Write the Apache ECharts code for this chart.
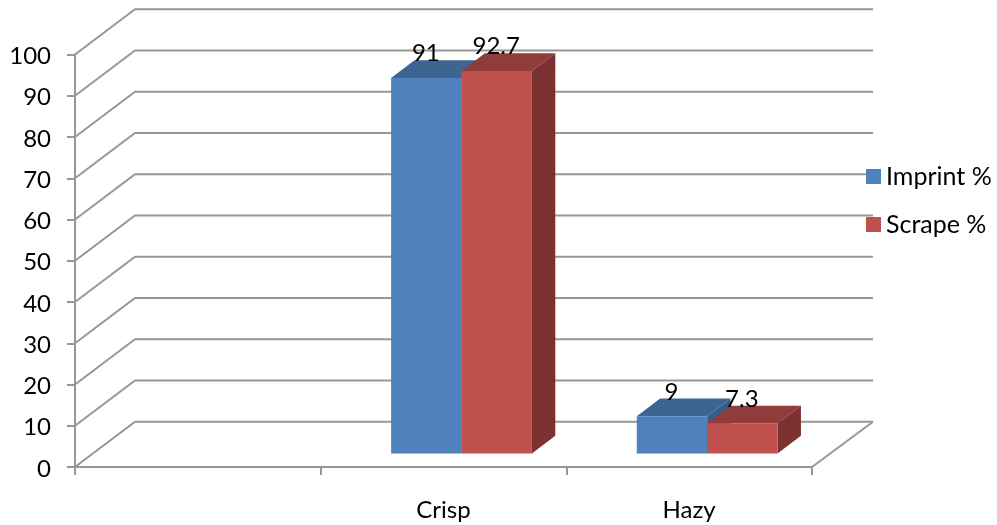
<!DOCTYPE html>
<html>
<head>
<meta charset="utf-8">
<style>html,body{margin:0;padding:0;background:#fff}#chart{width:997px;height:525px}</style>
<script src="https://cdn.jsdelivr.net/npm/echarts@6/dist/echarts.min.js"></script>
</head>
<body>
<div id="chart"></div>
<script>
// Chart data
const categories = ['', 'Crisp', 'Hazy'];
const imprint = [null, 91, 9];
const scrape = [null, 92.7, 7.3];
const gridTicks = [0, 10, 20, 30, 40, 50, 60, 70, 80, 90, 100];

// Oblique projection of the box: how far the back wall sits from the front plane
const DEPTH_X = 60, DEPTH_Y = -45.3;
const WALL_RIGHT_EXTRA = 61;
const BAR_START = 0.3, BAR_DEPTH = 0.39, BAR_WIDTH_RATIO = 0.2865;
const LINE = { stroke: '#979797', lineWidth: 2, fill: null };
const FONT = 'Lato, Carlito, sans-serif';

const shades = {
  blue: { front: '#4F81BD', top: '#3D6592', side: '#385D88' },
  red: { front: '#C0504D', top: '#8F3C3A', side: '#7B3130' }
};

function wallLines(params, api) {
  const v = api.value(0);
  const cs = params.coordSys;
  const y = api.coord([0, v])[1];
  const right = cs.x + cs.width + WALL_RIGHT_EXTRA;
  const children = [{
    type: 'polyline',
    shape: { points: [[cs.x, y], [cs.x + DEPTH_X, y + DEPTH_Y], [right, y + DEPTH_Y]] },
    style: LINE
  }];
  if (v === 0) {
    // right edge of the floor
    children.push({
      type: 'line',
      shape: { x1: cs.x + cs.width, y1: y, x2: right, y2: y + DEPTH_Y },
      style: LINE
    });
  }
  return { type: 'group', children };
}

function barRenderer(slot, colors) {
  return function (params, api) {
    const raw = api.value(1);
    if (raw == null || isNaN(raw)) return null;
    const idx = api.value(0);
    const bandW = api.size([1, 0])[0];
    const w = bandW * BAR_WIDTH_RATIO;
    const cx = api.coord([idx, 0])[0];
    const sx = DEPTH_X * BAR_START, sy = DEPTH_Y * BAR_START;
    const dx = DEPTH_X * BAR_DEPTH, dy = DEPTH_Y * BAR_DEPTH;
    const x0 = cx + sx + slot * w;
    const x1 = x0 + w;
    const yb = api.coord([idx, 0])[1] + sy;
    const yt = api.coord([idx, raw])[1] + sy;
    const poly = (pts, fill) => ({ type: 'polygon', shape: { points: pts }, style: { fill } });
    return {
      type: 'group',
      children: [
        poly([[x1, yb], [x1 + dx, yb + dy], [x1 + dx, yt + dy], [x1, yt]], colors.side),
        poly([[x0, yt], [x0 + dx, yt + dy], [x1 + dx, yt + dy], [x1, yt]], colors.top),
        poly([[x0, yb], [x1, yb], [x1, yt], [x0, yt]], colors.front),
        {
          type: 'text',
          z2: 100,
          style: {
            x: (x0 + x1) / 2 - 0.5, y: yt - 24.5,
            text: String(raw),
            fill: '#000', font: '24px ' + FONT,
            align: 'center', verticalAlign: 'middle'
          }
        }
      ]
    };
  };
}

const toPoints = values => values.map((v, i) => [i, v]);

const chart = echarts.init(document.getElementById('chart'), null, { renderer: 'canvas' });
chart.setOption({
  animation: false,
  backgroundColor: '#fff',
  grid: { left: 75, top: 54.5, width: 737, height: 412.5, containLabel: false },
  legend: {
    data: ['Imprint %', 'Scrape %'],
    orient: 'vertical',
    left: 861, top: 159,
    itemWidth: 15, itemHeight: 15, itemGap: 23,
    icon: 'rect',
    selectedMode: false,
    textStyle: { fontFamily: FONT, fontSize: 25, color: '#000' }
  },
  xAxis: {
    type: 'category',
    data: categories,
    axisLine: { lineStyle: { color: '#979797', width: 2 } },
    axisTick: { show: true, length: 8, lineStyle: { color: '#979797', width: 2 } },
    axisLabel: { interval: 0, margin: 31, fontFamily: FONT, fontSize: 24, color: '#000' },
    splitLine: { show: false }
  },
  yAxis: {
    type: 'value',
    min: 0, max: 100, interval: 10,
    axisLine: { show: true, lineStyle: { color: '#979797', width: 2 } },
    axisTick: { show: true, length: 8, lineStyle: { color: '#979797', width: 2 } },
    axisLabel: {
      margin: 24,
      formatter: '{tick|{value}}',
      // a little extra room above each number sets it just under its tick
      rich: { tick: { padding: [4, 0, 0, 0], fontFamily: FONT, fontSize: 24, color: '#000' } }
    },
    splitLine: { show: false }
  },
  series: [
    {
      type: 'custom', name: 'walls', silent: true, z: 1,
      data: gridTicks.map(t => [t]),
      encode: { y: 0 },
      renderItem: wallLines
    },
    {
      type: 'custom', name: 'Imprint %', z: 3,
      itemStyle: { color: shades.blue.front },
      data: toPoints(imprint),
      encode: { x: 0, y: 1 },
      renderItem: barRenderer(-1, shades.blue)
    },
    {
      type: 'custom', name: 'Scrape %', z: 4,
      itemStyle: { color: shades.red.front },
      data: toPoints(scrape),
      encode: { x: 0, y: 1 },
      renderItem: barRenderer(0, shades.red)
    }
  ]
});
</script>
</body>
</html>
